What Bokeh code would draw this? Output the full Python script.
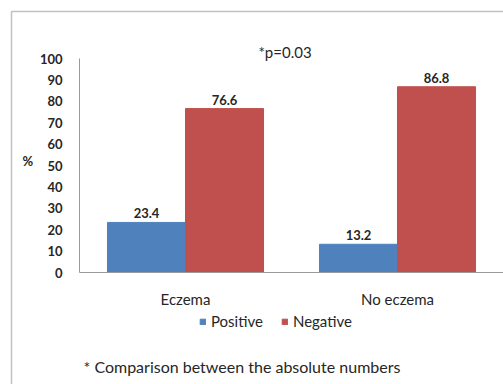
from bokeh.plotting import figure
from bokeh.models import (ColumnDataSource, Legend, LegendItem, Label, BoxAnnotation,
                          Range1d, LinearAxis, FixedTicker)
from bokeh.core.properties import value
from bokeh.embed import file_html
from bokeh.resources import INLINE

categories = ["Eczema", "No eczema"]
positive = [23.4, 13.2]
negative = [76.6, 86.8]
y_ticks = [0, 10, 20, 30, 40, 50, 60, 70, 80, 90, 100]

FONT = "Lato"
BLUE = "#4f81bd"
RED = "#c0504d"
TXT = "#262626"

# layout geometry (pixels)
W, H = 503, 384
X_AXIS_PX = 79      # x pixel of the y axis
Y0_PX, Y100_PX = 272, 58   # pixel rows of 0 and 100 %
CAT_PX = 212        # pixel width of one category
bw = 0.368          # bar width in category units

y_per_px = 100.0 / (Y0_PX - Y100_PX)
y_start = -(H - Y0_PX) * y_per_px
y_end = 100 + Y100_PX * y_per_px
x_start = -X_AXIS_PX / CAT_PX
x_end = (W - X_AXIS_PX) / CAT_PX

centers = [i + 0.5 for i in range(len(categories))]
src = ColumnDataSource(dict(
    xp=[c - bw / 2 for c in centers],
    xn=[c + bw / 2 for c in centers],
    pos=positive,
    neg=negative,
    pos_txt=[f"{v:.1f}" for v in positive],
    neg_txt=[f"{v:.1f}" for v in negative],
))

p = figure(x_range=Range1d(x_start, x_end), y_range=Range1d(y_start, y_end),
           width=W, height=H, output_backend="svg", toolbar_location=None,
           x_axis_type=None, y_axis_type=None,
           min_border=0, min_border_left=0, min_border_right=0,
           min_border_top=0, min_border_bottom=0)
p.grid.visible = False
p.outline_line_color = None

r_pos = p.vbar(x="xp", top="pos", width=bw, bottom=0, source=src,
               fill_color=BLUE, line_color=BLUE)
r_neg = p.vbar(x="xn", top="neg", width=bw, bottom=0, source=src,
               fill_color=RED, line_color=RED)

for xcol, col, txt in (("xp", "pos", "pos_txt"), ("xn", "neg", "neg_txt")):
    p.text(x=xcol, y=col, text=txt, source=src,
           text_align="center", text_baseline="alphabetic", y_offset=-9,
           text_font=value(FONT), text_font_size="13px", text_font_style="bold",
           text_color=TXT)

# axes drawn inside the frame at fixed locations
yax = LinearAxis(fixed_location=0, bounds=(0, 100), ticker=FixedTicker(ticks=y_ticks))
yax.major_tick_line_color = None
yax.minor_tick_line_color = None
yax.axis_line_color = "#9a9a9a"
yax.major_label_text_font = FONT
yax.major_label_text_font_size = "13px"
yax.major_label_text_font_style = "bold"
yax.major_label_text_color = TXT
yax.major_label_standoff = 11
p.add_layout(yax, "left")

xax = LinearAxis(fixed_location=0, bounds=(0, len(categories)),
                 ticker=FixedTicker(ticks=centers),
                 major_label_overrides={c: name for c, name in zip(centers, categories)})
xax.major_tick_line_color = None
xax.minor_tick_line_color = None
xax.axis_line_color = "#9a9a9a"
xax.major_label_text_font = FONT
xax.major_label_text_font_size = "15px"
xax.major_label_text_color = TXT
xax.major_label_standoff = 11
p.add_layout(xax, "below")

legend = Legend(items=[LegendItem(label="Positive", renderers=[r_pos]),
                       LegendItem(label="Negative", renderers=[r_neg])],
                orientation="horizontal", location=(199, 54),
                glyph_width=7, glyph_height=7, label_standoff=5, spacing=18,
                padding=0, margin=0, border_line_color=None, background_fill_alpha=0,
                label_text_font=FONT, label_text_font_size="15px", label_text_color=TXT)
p.add_layout(legend, "center")

# screen units: from the frame's bottom-left corner, y upward
p.add_layout(Label(x=22, y=H - 160, x_units="screen", y_units="screen", text="%",
                   text_baseline="alphabetic", text_font=FONT, text_font_size="13px",
                   text_font_style="bold", text_color=TXT))
p.add_layout(Label(x=258, y=H - 51, x_units="screen", y_units="screen", text="*p=0.03",
                   text_baseline="alphabetic", text_font=FONT, text_font_size="15px",
                   text_color=TXT))
p.add_layout(Label(x=83, y=H - 366, x_units="screen", y_units="screen",
                   text="* Comparison between the absolute numbers",
                   text_baseline="alphabetic", text_font=FONT, text_font_size="16px",
                   text_color=TXT))

p.add_layout(BoxAnnotation(left=11, right=W + 10, top=H - 11, bottom=-10,
                           left_units="screen", right_units="screen",
                           top_units="screen", bottom_units="screen",
                           fill_alpha=0, line_color="#333333", line_width=1.5))

open("out.html", "w").write(file_html(p, INLINE))
